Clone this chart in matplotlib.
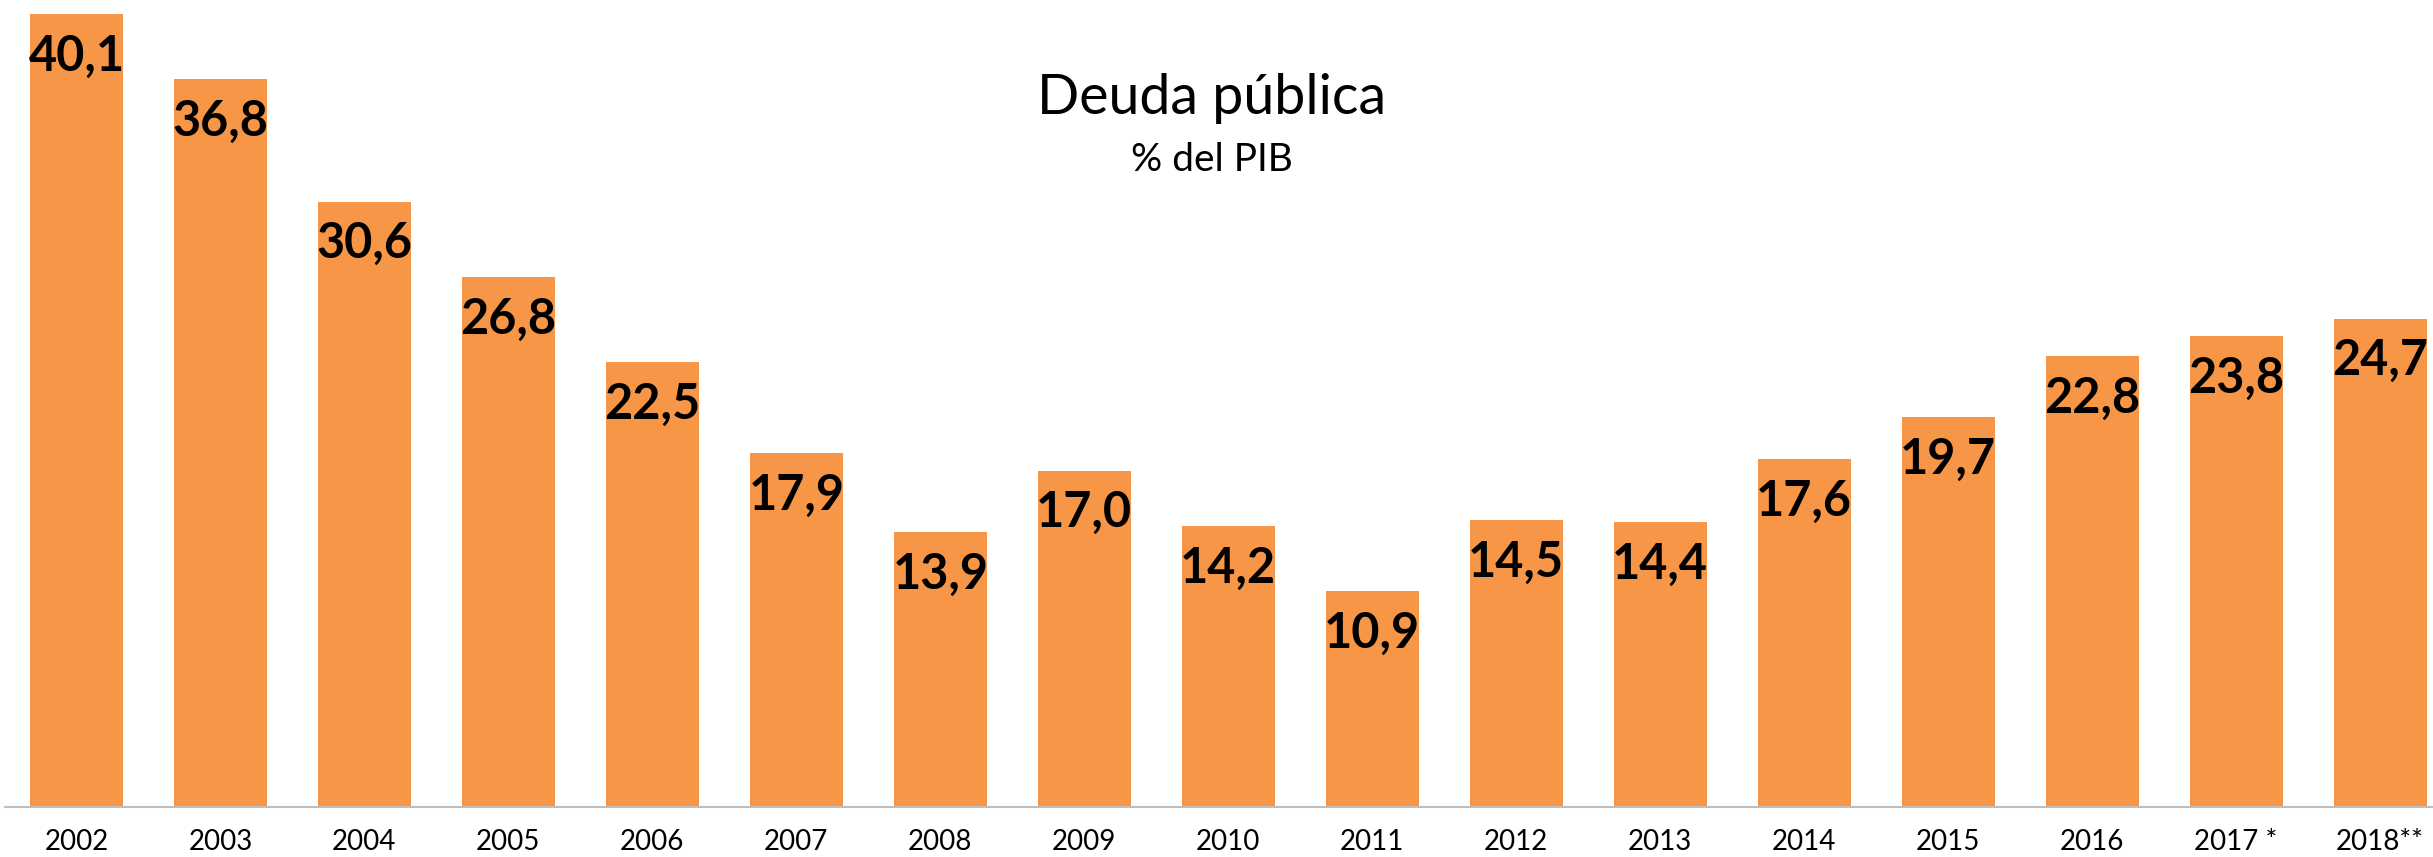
import matplotlib.pyplot as plt

# data
years = ["2002", "2003", "2004", "2005", "2006", "2007", "2008", "2009", "2010",
         "2011", "2012", "2013", "2014", "2015", "2016", "2017 *", "2018**"]
deuda = [40.1, 36.8, 30.6, 26.8, 22.5, 17.9, 13.9, 17.0, 14.2,
         10.9, 14.5, 14.4, 17.6, 19.7, 22.8, 23.8, 24.7]

plt.rcParams['font.family'] = ['Lato', 'DejaVu Sans']

W, H = 2433, 857
fig = plt.figure(figsize=(W / 100, H / 100), dpi=100)

# axes spans slightly past the right edge (last bar is cropped at the border)
ax = fig.add_axes([4.5 / W, 50 / H, 2447.5 / W, 807 / H])

x = range(len(years))
bars = ax.bar(x, deuda, width=0.646, color='#F79646', edgecolor='none')

ax.set_xlim(-0.5, len(years) - 0.5)
ax.set_ylim(0, 807 / 19.776)

for xi, v in zip(x, deuda):
    ax.annotate(f"{v:.1f}".replace(".", ","), (xi, v), xytext=(0, -14),
                textcoords='offset points', ha='center', va='top',
                fontsize=35, fontweight='bold', color='black')

ax.set_xticks(list(x))
ax.set_xticklabels(years, fontsize=20)
ax.tick_params(axis='x', length=0, pad=16)
ax.set_yticks([])
for s in ['top', 'left', 'right']:
    ax.spines[s].set_visible(False)
ax.spines['bottom'].set_color('#BFBFBF')
ax.spines['bottom'].set_linewidth(1.5)

fig.text(1212 / W, 1 - 98 / H, "Deuda pública", ha='center', va='center', fontsize=40)
fig.text(1212 / W, 1 - 160 / H, "% del PIB", ha='center', va='center', fontsize=28)

fig.savefig("out.png", dpi=100)
